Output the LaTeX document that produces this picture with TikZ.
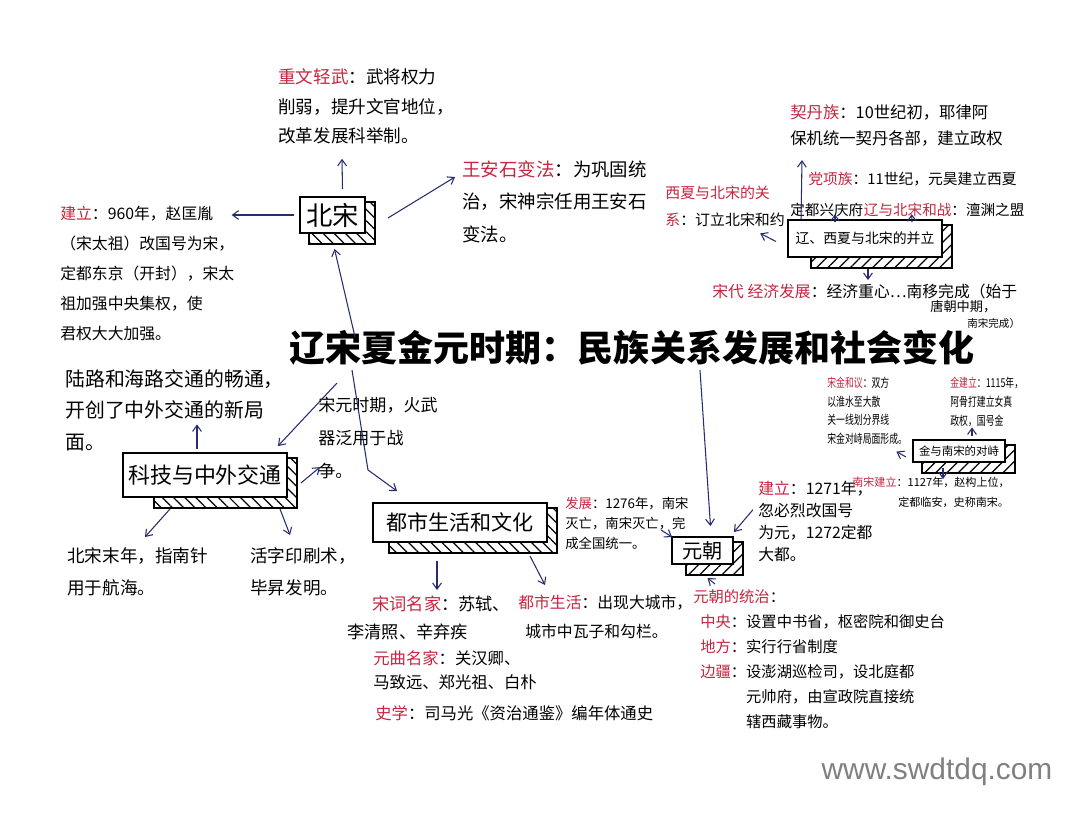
\documentclass[tikz,border=0pt]{standalone}
\usepackage{fontspec}
\setmainfont{Noto Sans CJK SC}
\newfontfamily\cjknarrow[FakeStretch=0.72]{Noto Sans CJK SC}
\newfontfamily\wmfont{Liberation Sans}
\definecolor{markred}{RGB}{196,38,64}
\definecolor{arrowblue}{RGB}{38,44,110}
\definecolor{markgray}{RGB}{128,128,128}
\usetikzlibrary{arrows.meta,positioning,calc,backgrounds,patterns.meta}

\newcommand{\rl}[1]{{\color{markred}#1}}
\newcommand{\fsz}[2]{\fontsize{#1}{#2}\selectfont}
% hatched shadow behind a box: node, left offset, hatch angle
\newcommand{\shadowhatch}[3]{%
  \begin{scope}[on background layer]
    \draw[line width=1pt, pattern={Lines[angle=#3, distance=4.5pt, line width=0.7pt]}]
      ($(#1.north west)+(#2,6)$) rectangle ($(#1.south east)+(9,10)$);
  \end{scope}}

\begin{document}
\begin{tikzpicture}[x=0.02cm, y=-0.02cm,
    note/.style={anchor=north west, inner sep=0pt, align=left},
    box/.style={draw, line width=1.1pt, fill=white, inner sep=1pt},
    arr/.style={draw=arrowblue, line width=0.6pt, -{Straight Barb[length=3.5pt,width=5pt]}}]

\begin{scope}[on background layer]
  \fill[white] (0,0) rectangle (1080,816);
\end{scope}
\useasboundingbox (0,0) rectangle (1080,816);

% title
\node[inner sep=0pt, font=\bfseries\fsz{20.5}{24}] (title) at (632,348) {辽宋夏金元时期：民族关系发展和社会变化};

% Northern Song
\node[box, minimum width=1.3cm, minimum height=0.72cm, font=\fsz{15}{17}] (beisong) at (332.5,215) {北宋};
\node[note, font=\fsz{10}{17}] (zhongwen) at (278,68) {\rl{重文轻武}：武将权力\\削弱，提升文官地位，\\改革发展科举制。};
\node[note, font=\fsz{9}{17}] (jianli) at (60,206) {\rl{建立}：960年，赵匡胤\\（宋太祖）改国号为宋，\\定都东京（开封），宋太\\祖加强中央集权，使\\君权大大加强。};
\node[note, font=\fsz{10.5}{18.7}] (wanganshi) at (462,160) {\rl{王安石变法}：为巩固统\\治，宋神宗任用王安石\\变法。};

% Liao, Xixia and Song
\node[box, minimum width=3.08cm, minimum height=0.74cm, font=\fsz{7.9}{9}] (liaobox) at (865,238.5) {辽、西夏与北宋的并立};
\node[note, font=\fsz{9.3}{15.3}] (qidan) at (790,104) {\rl{契丹族}：10世纪初，耶律阿\\保机统一契丹各部，建立政权};
\node[note, font=\fsz{8.4}{12}] (dangxiang) at (808,172) {\rl{党项族}：11世纪，元昊建立西夏};
\node[note, anchor=west, font=\fsz{8.3}{12}] (dingdu) at (790,210) {定都兴庆府};
\node[note, right=0pt of dingdu, font=\fsz{8.3}{12}] (liaosong) {\rl{辽与北宋和战}：澶渊之盟};
\node[note, font=\fsz{8.5}{15.3}] (xixia) at (665,186) {\rl{西夏与北宋的关}\\\rl{系}：订立北宋和约};
\node[note, font=\fsz{9}{12}] (jingji) at (712,284) {\rl{宋代} \rl{经济发展}：经济重心…南移完成（始于};
\node[note, font=\fsz{7.5}{9}] (jingji2) at (930,300) {唐朝中期，};
\node[note, font=\fsz{6}{8}] (jingji3) at (967,318) {南宋完成）};

% science and traffic
\node[box, minimum width=3.28cm, minimum height=0.88cm, font=\fsz{12.5}{14}] (keji) at (205,475) {科技与中外交通};
\node[note, font=\fsz{11.3}{18}] (lulu) at (65,369) {陆路和海路交通的畅通，\\开创了中外交通的新局\\面。};
\node[note, font=\fsz{9.7}{18.7}] (huowu) at (318,397) {宋元时期，火武\\器泛用于战\\争。};
\node[note, font=\fsz{10}{18.5}] (beimo) at (67,547) {北宋末年，指南针\\用于航海。};
\node[note, font=\fsz{10}{18.5}] (huozi) at (250,547) {活字印刷术，\\毕昇发明。};

% city life and culture
\node[box, minimum width=3.48cm, minimum height=0.78cm, font=\fsz{12}{14}] (dushi) at (460,522.5) {都市生活和文化};
\node[note, font=\fsz{9.8}{15.9}] (songci) at (347,596) {\hspace*{0.5cm}\rl{宋词名家}：苏轼、\\李清照、辛弃疾};
\node[note, font=\fsz{9.3}{13.6}] (yuanqu) at (373,650) {\rl{元曲名家}：关汉卿、\\马致远、郑光祖、白朴};
\node[note, font=\fsz{9.3}{13.6}] (shixue) at (375,705) {\rl{史学}：司马光《资治通鉴》编年体通史};
\node[note, font=\fsz{9}{16.4}] (dushish) at (518,595) {\rl{都市生活}：出现大城市，\\\hspace*{0.14cm}城市中瓦子和勾栏。};

% Yuan
\node[box, minimum width=1.22cm, minimum height=0.54cm, font=\fsz{11.5}{13}] (yuan) at (702.5,550.5) {元朝};
\node[note, font=\fsz{7.6}{11.3}] (fazhan) at (565,497) {\rl{发展}：1276年，南宋\\灭亡，南宋灭亡，完\\成全国统一。};
\node[note, font=\fsz{9}{12.5}] (yuanjl) at (758,481) {\rl{建立}：1271年，\\忽必烈改国号\\为元，1272定都\\大都。};
\node[note, font=\fsz{8.7}{14.2}] (tongzhi) at (693,589) {\rl{元朝的统治}：\\\hspace*{0.14cm}\rl{中央}：设置中书省，枢密院和御史台\\\hspace*{0.14cm}\rl{地方}：实行行省制度\\\hspace*{0.14cm}\rl{边疆}：设澎湖巡检司，设北庭都\\\hspace*{0.14cm}\hspace*{3em}元帅府，由宣政院直接统\\\hspace*{0.14cm}\hspace*{3em}辖西藏事物。};

% Jin and Southern Song
\node[box, minimum width=1.84cm, minimum height=0.44cm, font=\fsz{6.5}{7.5}] (jinbox) at (959,451) {金与南宋的对峙};
\node[note, font=\cjknarrow\fsz{7}{10.8}] (jinjl) at (950,377) {\rl{金建立}：1115年，\\阿骨打建立女真\\政权，国号金};
\node[note, font=\cjknarrow\fsz{7}{10.5}] (songjin) at (827,377) {\rl{宋金和议}：双方\\以淮水至大散\\关一线划分界线\\宋金对峙局面形成。};
\node[note, font=\fsz{6.3}{11.3}] (nansong) at (852,477) {\rl{南宋建立}：1127年，赵构上位，\\\hspace*{0.92cm}定都临安，史称南宋。};

\node[inner sep=0pt, text=markgray, font=\wmfont\fsz{17}{20}] (site) at (937,772) {www.swdtdq.com};

\shadowhatch{beisong}{10}{-45}
\shadowhatch{keji}{32}{-45}
\shadowhatch{dushi}{17}{-45}
\shadowhatch{yuan}{15}{45}
\shadowhatch{liaobox}{24}{45}
\shadowhatch{jinbox}{10}{45}

% from the title
\draw[arr] ($(title.center)+(-277,-11)$) -- ($(beisong.south)+(2,15)$);
\draw[arr] ($(title.center)+(-295,35)$) -- ($(keji.north east)+(-10,-6)$);
\draw[arr] ($(title.center)+(-280,22)$) -- ($(title.center)+(-264,122)$) -- ($(dushi.north west)+(25,-11)$);
\draw[arr] ($(title.center)+(68,22)$) -- ($(yuan.north)+(8,-10)$);

% Northern Song
\draw[arr] ($(beisong.north)+(10,-7)$) -- ($(zhongwen.south west)+(64,14)$);
\draw[arr] ($(beisong.west)+(-5,0)$) -- ($(jianli.north east)+(-3,9)$);
\draw[arr] ($(beisong.east)+(22,3)$) -- ($(wanganshi.north west)+(-7,17)$);

% Liao, Xixia and Song
\draw[arr] ($(liaobox.north west)+(14,0)$) -- ($(qidan.south west)+(12,13)$);
\draw[arr] ($(liaobox.north)+(-30,3)$) -- ($(dingdu.south west)+(45,-3)$);
\draw[arr] ($(liaobox.north)+(47,3)$) -- ($(liaosong.south west)+(48,-3)$);
\draw[arr] ($(liaobox.west)+(-11,3)$) -- ($(xixia.south east)+(-25,6)$);
\draw[arr] ($(liaobox.south)+(3,11)$) -- ($(jingji.north west)+(156,-4)$);

% science and traffic
\draw[arr] ($(keji.north)+(-8,-3)$) -- ($(lulu.south west)+(132,-27)$);
\draw[arr] ($(keji.east)+(13,8)$) -- ($(huowu.south west)+(2,-12)$);
\draw[arr] ($(keji.south)+(-35,11)$) -- ($(beimo.north west)+(78,-10)$);
\draw[arr] ($(keji.south)+(75,11)$) -- ($(huozi.north west)+(40,-12)$);

% city life
\draw[arr] ($(dushi.south)+(-23,18)$) -- ($(songci.north west)+(90,-6)$);
\draw[arr] ($(dushi.south)+(70,13)$) -- ($(dushish.north west)+(27,-10)$);

% Yuan
\draw[arr] ($(fazhan.south east)+(-28,-20)$) -- ($(yuan.north west)+(1,1)$);
\draw[arr] ($(yuanjl.west)+(-5,-12)$) -- ($(yuan.north east)+(0,-4)$);
\draw[arr] ($(tongzhi.north west)+(22,-5)$) -- ($(yuan.south)+(5,13)$);

% Jin and Southern Song
\draw[arr] ($(jinbox.north)+(13,-3)$) -- ($(jinjl.south west)+(22,0)$);
\draw[arr] ($(jinbox.west)+(-6,6)$) -- ($(songjin.south east)+(-11,7)$);
\draw[arr] ($(jinbox.south)+(-16,5)$) -- ($(nansong.north west)+(91,2)$);
\end{tikzpicture}
\end{document}
